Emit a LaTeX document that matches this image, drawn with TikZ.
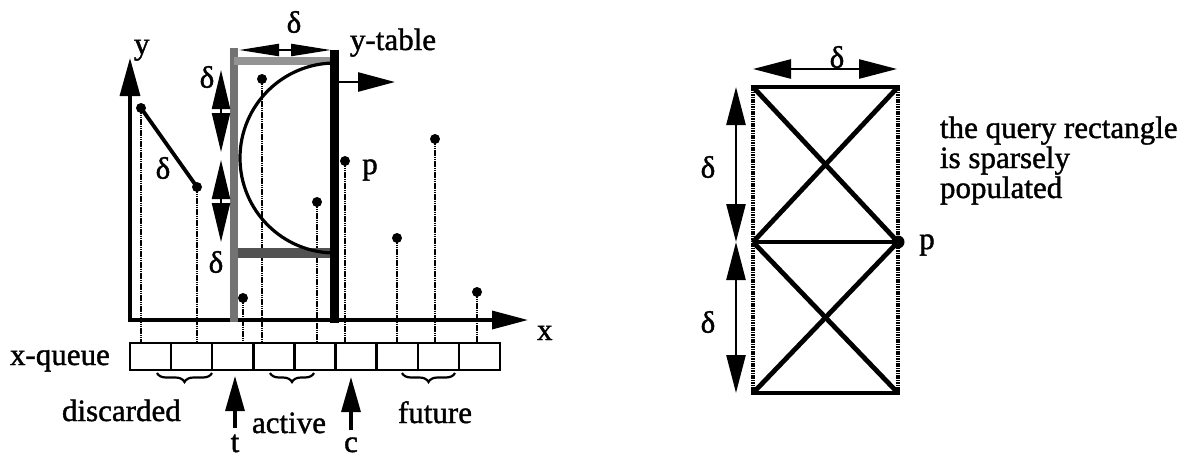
\documentclass[tikz,border=0pt]{standalone}
\usepackage{fontspec}
\setmainfont[FakeBold=1.3]{Liberation Serif}
\usetikzlibrary{arrows.meta,decorations.pathreplacing}
\tikzset{
  lbl/.style={font=\fontsize{31}{30}\selectfont, inner sep=0pt, outer sep=0pt},
  axisline/.style={line width=3.4pt},
  stemline/.style={line width=2.4pt, dash pattern=on 1.6pt off 0.6pt},
  ptdot/.style={fill=black},
  qbox/.style={draw, line width=2.4pt, minimum width=41.1pt, minimum height=27pt, inner sep=0pt, outer sep=0pt},
  bigtip/.style={-{Triangle[length=37pt,width=19pt]}},
  dbltip/.style={{Triangle[length=39pt,width=18pt]}-{Triangle[length=39pt,width=18pt]}, line width=2.2pt},
  flattip/.style={{Triangle[length=40pt,width=12pt]}-{Triangle[length=40pt,width=12pt]}, line width=2.2pt},
  rtip/.style={{Triangle[length=38pt,width=19pt]}-{Triangle[length=38pt,width=19pt]}, line width=2.6pt},
  ubrace/.style={decorate, decoration={brace, mirror, amplitude=9pt}, line width=2.2pt},
  grayedge/.style={line width=8pt, draw=black!55},
  grayedgelight/.style={line width=8pt, draw=black!42},
  grayedgedark/.style={line width=10pt, draw=black!68},
  blackedge/.style={line width=9pt},
  rectsolid/.style={line width=4.8pt},
  rectdotted/.style={line width=4.8pt, dash pattern=on 1.6pt off 0.8pt},
}
\begin{document}
\begin{tikzpicture}[x=1pt,y=-1pt]
\useasboundingbox (0,0) rectangle (1184,459);

% ---------------- left diagram ----------------
% x-queue boxes
\foreach \i in {1,...,9}{
  \node[qbox] (b\i) at ({130+41.1*(\i-0.5)},356.5) {};
}
\node[lbl, anchor=base west] (xq) at (10,365) {x-queue};

% axes
\coordinate (O) at (130,320);
\coordinate (Ytip) at (130,58);
\coordinate (Xtip) at (528,320);
\draw[axisline, -{Triangle[length=38pt,width=20pt]}] (O) -- (Ytip);
\draw[axisline, -{Triangle[length=36pt,width=18pt]}] ([xshift=-1.7pt]O) -- (Xtip);
\node[lbl, anchor=base west] (ylab) at (134,54) {y};
\node[lbl, anchor=base west] (xlab) at (537,340) {x};

% points
\coordinate (P1) at (141,108);
\coordinate (P2) at (197,187);
\coordinate (P3) at (243,298);
\coordinate (P4) at (262,79);
\coordinate (P5) at (317,202);
\coordinate (P6) at (345,161);
\coordinate (P7) at (397,238);
\coordinate (P8) at (435,139);
\coordinate (P9) at (477,292);

% stems
\draw[stemline] (P1) -- (P1 |- b1.north);
\draw[stemline] (P2) -- (P2 |- b2.north);
\draw[stemline] (P3) -- (P3 |- b3.north);
\draw[stemline] (P4) -- (P4 |- b4.north);
\draw[stemline] (P5) -- (P5 |- b5.north);
\draw[stemline] (P6) -- (P6 |- b6.north);
\draw[stemline] (P7) -- (P7 |- b7.north);
\draw[stemline] (P8) -- (P8 |- b8.north);
\draw[stemline] (P9) -- (P9 |- b9.north);

% delta segment between P1 and P2
\draw[line width=3.8pt] (P1) -- (P2);
\node[lbl] (d1) at (163,168) {δ};

% y-table
\coordinate (TL) at (234,48);
\coordinate (BL) at (234,322);
\coordinate (TR) at (334,50);
\coordinate (BR) at (334,323);
\coordinate (ML) at (238,253);
\coordinate (MR) at (337,253);
\draw[grayedge] (TL) -- (BL);
\draw[grayedgelight] (234,61) -- (336,61);
\draw[grayedgedark] (ML) -- (MR);
\draw[blackedge] (TR) -- (BR);
% semicircle
\draw[line width=3.2pt] (335,253) arc[start angle=90, end angle=270, radius=95];
% sweep arrow
\coordinate (Sw1) at (339,82);
\coordinate (Sw2) at (395,82);
\draw[line width=2.6pt, bigtip] (Sw1) -- (Sw2);
\node[lbl, anchor=base west] (yt) at (350,50) {y-table};
% delta width arrow
\coordinate (Wa) at (239,50);
\coordinate (Wb) at (331,50);
\draw[flattip] (Wa) -- (Wb);
\node[lbl] (d2) at (294,22) {δ};
% vertical delta arrows
\coordinate (Va1) at (221,70);
\coordinate (Va2) at (221,152);
\coordinate (Vb1) at (221,160);
\coordinate (Vb2) at (221,242);
\draw[dbltip] (Va1) -- (Va2);
\draw[dbltip] (Vb1) -- (Vb2);
\node[lbl] (d3) at (207,77) {δ};
\node[lbl] (d4) at (216,262) {δ};

% point markers
\foreach \p in {P1,P2,P3,P4,P5,P6,P7,P8,P9}{
  \fill[ptdot] (\p) circle[radius=5pt];
}
\node[lbl] (plab) at (370,170) {p};

% braces and labels under queue
\coordinate (Br1a) at (157,373); \coordinate (Br1b) at (212,373);
\coordinate (Br2a) at (270,373); \coordinate (Br2b) at (314,373);
\coordinate (Br3a) at (402,373); \coordinate (Br3b) at (455,373);
\draw[ubrace] (Br1a) -- (Br1b);
\draw[ubrace] (Br2a) -- (Br2b);
\draw[ubrace] (Br3a) -- (Br3b);
\node[lbl, anchor=base west] (disc) at (62,421) {discarded};
\node[lbl, anchor=base west] (act) at (252,433) {active};
\node[lbl, anchor=base west] (fut) at (398,423) {future};

% t and c pointers
\coordinate (Tb) at (235,428);
\coordinate (Tt) at (235,376);
\coordinate (Cb) at (351,430);
\coordinate (Ct) at (351,377);
\draw[line width=3.2pt, -{Triangle[length=35pt,width=19pt]}] (Tb) -- (Tt);
\draw[line width=3.2pt, -{Triangle[length=35pt,width=19pt]}] (Cb) -- (Ct);
\node[lbl, anchor=base] (tlab) at (235,452) {t};
\node[lbl, anchor=base] (clab) at (351,452) {c};

% ---------------- right diagram ----------------
\coordinate (Rtl) at (753,87);
\coordinate (Rtr) at (898,87);
\coordinate (Rml) at (753,242);
\coordinate (Rmr) at (898,242);
\coordinate (Rbl) at (753,393);
\coordinate (Rbr) at (898,393);
\draw[rectdotted] (Rtl) -- (Rbl);
\draw[rectdotted] (Rtr) -- (Rbr);
\draw[rectsolid] ([xshift=-2.4pt]Rtl) -- ([xshift=2.4pt]Rtr);
\draw[line width=4.2pt] (Rml) -- (Rmr);
\draw[rectsolid] ([xshift=-2.4pt]Rbl) -- ([xshift=2.4pt]Rbr);
\draw[rectsolid] (Rtl) -- (Rmr);
\draw[rectsolid] (Rtr) -- (Rml);
\draw[rectsolid] (Rml) -- (Rbr);
\draw[rectsolid] (Rmr) -- (Rbl);
\fill[ptdot] (Rmr) circle[radius=6.5pt];
\node[lbl] (p2lab) at (927,245) {p};

% delta arrows right
\coordinate (Ha) at (753,69);
\coordinate (Hb) at (897,69);
\draw[rtip] (Ha) -- (Hb);
\node[lbl] (d5) at (837,57) {δ};
\coordinate (Ua) at (736,87);
\coordinate (Ub) at (736,242);
\coordinate (La) at (736,242);
\coordinate (Lb) at (736,393);
\draw[rtip] (Ua) -- (Ub);
\draw[rtip] (La) -- (Lb);
\node[lbl] (d6) at (708,167) {δ};
\node[lbl] (d7) at (708,322) {δ};

\node[lbl, anchor=base west] (q1) at (940,138) {the query rectangle};
\node[lbl, anchor=base west] (q2) at (940,168) {is sparsely};
\node[lbl, anchor=base west] (q3) at (940,198) {populated};
\end{tikzpicture}
\end{document}
